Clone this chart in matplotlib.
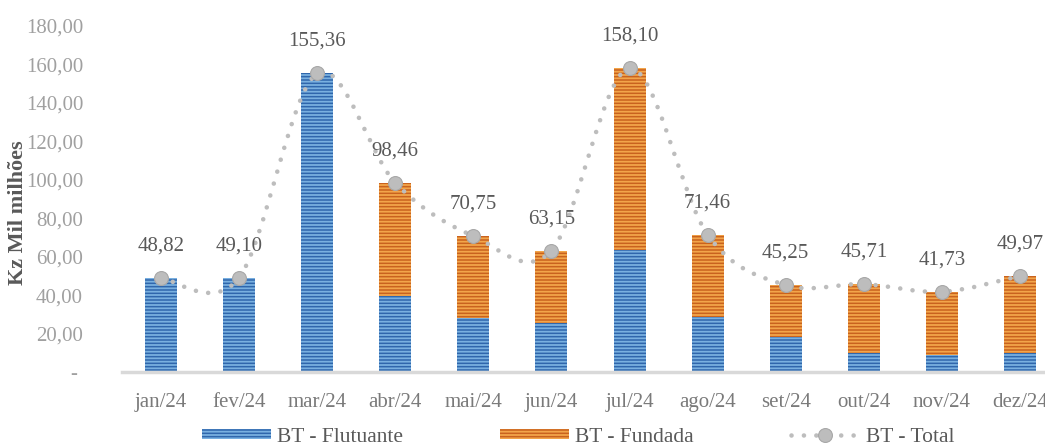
import numpy as np
from matplotlib import pyplot as plt
from matplotlib.path import Path
from matplotlib.patches import PathPatch, Patch
from matplotlib.lines import Line2D

plt.rcParams['font.family'] = ['Liberation Serif', 'DejaVu Serif']

meses = ['jan/24', 'fev/24', 'mar/24', 'abr/24', 'mai/24', 'jun/24',
         'jul/24', 'ago/24', 'set/24', 'out/24', 'nov/24', 'dez/24']
flutuante = [48.82, 49.10, 155.36, 39.60, 28.00, 25.70, 63.50, 28.80, 18.00, 9.70, 8.80, 9.70]
fundada = [0.00, 0.00, 0.00, 58.86, 42.75, 37.45, 94.60, 42.66, 27.25, 36.01, 32.93, 40.27]
total = [48.82, 49.10, 155.36, 98.46, 70.75, 63.15, 158.10, 71.46, 45.25, 45.71, 41.73, 49.97]
yticks = [0, 20, 40, 60, 80, 100, 120, 140, 160, 180]

azul, azul_cl = '#2F66AC', '#79B0E0'
laranja, laranja_cl = '#C9621E', '#F2A54A'
cinza = '#BDBDBD'
fs = 15

fig = plt.figure(figsize=(10.45, 4.48), dpi=100)
ax = fig.add_axes([0.1167, 0.1696, 0.8967, 0.7724])

x = np.arange(len(meses))
w = 0.41
plt.rcParams['hatch.linewidth'] = 1.3
ax.bar(x, flutuante, w, color=azul, edgecolor=azul_cl, linewidth=0, hatch='-----', zorder=2)
ax.bar(x, fundada, w, bottom=flutuante, color=laranja, edgecolor=laranja_cl, linewidth=0,
       hatch='-----', zorder=2)

# linha suavizada (tipo Excel) pelos totais
pts = np.column_stack([x, total]).astype(float)
verts = [pts[0]]
codes = [Path.MOVETO]
n = len(pts)
for i in range(n - 1):
    p_prev = pts[i - 1] if i > 0 else pts[i]
    p_next2 = pts[i + 2] if i + 2 < n else pts[i + 1]
    c1 = pts[i] + (pts[i + 1] - p_prev) / 6
    c2 = pts[i + 1] - (p_next2 - pts[i]) / 6
    verts += [c1, c2, pts[i + 1]]
    codes += [Path.CURVE4] * 3
linha = PathPatch(Path(verts, codes), fill=False, edgecolor=cinza, linewidth=3.3,
                  linestyle=(0, (0.01, 2.7)), capstyle='round', zorder=3)
ax.add_patch(linha)
ax.plot(x, total, linestyle='none', marker='o', markersize=10, color=cinza,
        markeredgecolor='#A8A8A8', markeredgewidth=0.8, zorder=4)

for xi, t in zip(x, total):
    ax.annotate('{:.2f}'.format(t).replace('.', ','), (xi, t), xytext=(0, 23),
                textcoords='offset points', ha='center', va='center',
                fontsize=fs, color='#595959', zorder=5)

ax.set_xlim(-0.5, len(meses) - 0.5)
ax.set_ylim(0, 180)
ax.set_yticks(yticks)
ax.set_yticklabels(['- '] + ['{:.2f}'.format(v).replace('.', ',') for v in yticks[1:]],
                   fontsize=fs, color='#A0A0A0')
ax.set_xticks(x)
ax.set_xticklabels(meses, fontsize=fs, color='#7A7A7A')
ax.tick_params(axis='y', length=0, pad=28)
ax.tick_params(axis='x', length=0, pad=15)
for s in ['top', 'right', 'left']:
    ax.spines[s].set_visible(False)
ax.spines['bottom'].set_color('#D9D9D9')
ax.spines['bottom'].set_linewidth(2.5)
ax.set_ylabel('Kz Mil milhões', fontsize=16, fontweight='bold', color='#595959')
ax.yaxis.set_label_coords(-0.100, 0.46)

handles = [Patch(facecolor=azul, edgecolor=azul_cl, linewidth=0, hatch='-----'),
           Patch(facecolor=laranja, edgecolor=laranja_cl, linewidth=0, hatch='-----'),
           Line2D([], [], color=cinza, linewidth=3.3, linestyle=(0, (0.01, 2.7)),
                  dash_capstyle='round', marker='o', markersize=10,
                  markeredgecolor='#A8A8A8', markeredgewidth=0.8)]
leg = fig.legend(handles, ['BT - Flutuante', 'BT - Fundada', 'BT - Total'], ncol=3,
                 loc='center left', bbox_to_anchor=(191 / 1045, 0.024), frameon=False,
                 borderpad=0, handlelength=3.2, handleheight=0.4, columnspacing=4.5,
                 handletextpad=0.3, fontsize=15.5, numpoints=1)
for t in leg.get_texts():
    t.set_color('#595959')

fig.savefig('out.png', dpi=100)
